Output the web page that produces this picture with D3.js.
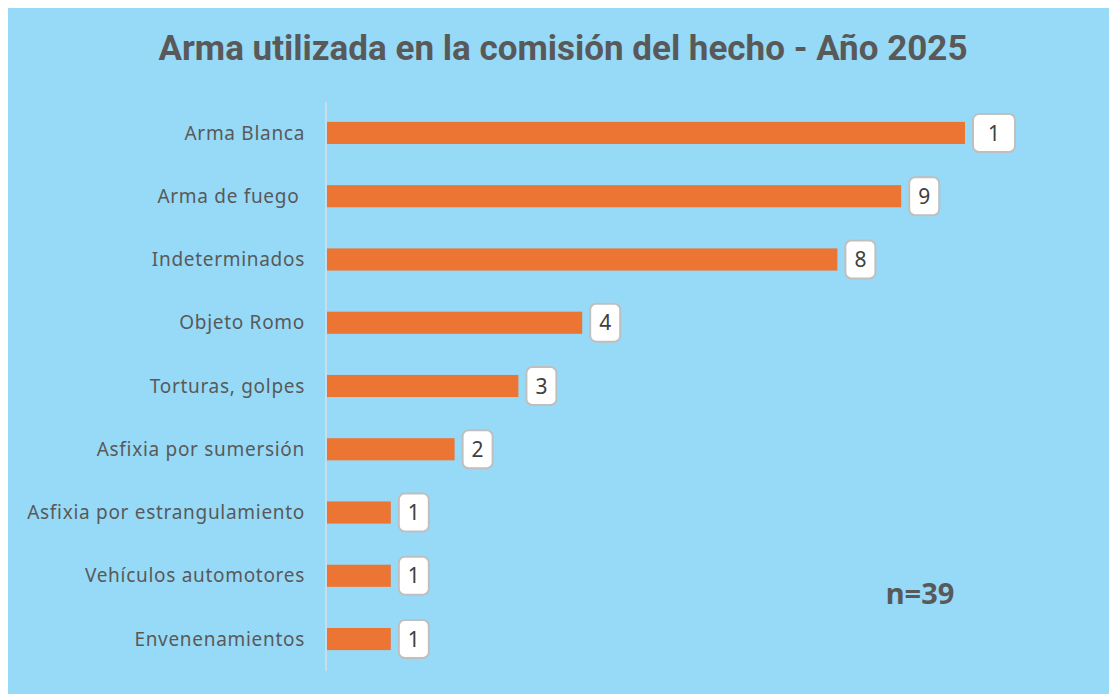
<!DOCTYPE html>
<html><head><meta charset="utf-8">
<script src="https://cdn.jsdelivr.net/npm/d3@7/dist/d3.min.js"></script>
<style>body{margin:0;background:#fff}svg{display:block}text{white-space:pre}</style>
</head><body>
<svg id="c" width="1109" height="694"></svg>
<script>
const categories = ["Arma Blanca","Arma de fuego ","Indeterminados","Objeto Romo","Torturas, golpes","Asfixia por sumersión","Asfixia por estrangulamiento","Vehículos automotores","Envenenamientos"];
const values = [10,9,8,4,3,2,1,1,1];
const valueLabels = ["1","9","8","4","3","2","1","1","1"];
const title = "Arma utilizada en la comisión del hecho - Año 2025";
const note = "n=39";

const svg = d3.select("#c");
svg.append("rect").attr("x",8).attr("y",8).attr("width",1101).attr("height",686).attr("fill","#97DAF7");

svg.append("text").attr("x",563).attr("y",60).attr("text-anchor","middle")
  .attr("font-family","Roboto, sans-serif").attr("font-weight",700).attr("font-size",35)
  .attr("fill","#595959").text(title);

const x = d3.scaleLinear().domain([0,10]).range([327,965]);
const y = d3.scaleBand().domain(categories).range([101,671]).paddingInner(0.65).paddingOuter(0.33);

svg.append("line").attr("x1",326).attr("x2",326).attr("y1",102).attr("y2",671)
  .attr("stroke","#C9DDE6").attr("stroke-width",2);

const g = svg.append("g");
g.selectAll("rect.bar").data(categories).join("rect").attr("class","bar")
  .attr("x",x(0)).attr("y",d=>y(d)).attr("height",y.bandwidth())
  .attr("width",(d,i)=>x(values[i])-x(0)).attr("fill","#ED7533");

g.selectAll("text.cat").data(categories).join("text").attr("class","cat")
  .attr("x",305).attr("y",d=>y(d)+y.bandwidth()/2).attr("dy","0.35em")
  .attr("text-anchor","end").attr("font-family","'Noto Sans', sans-serif").attr("font-size",19)
  .attr("letter-spacing",0.7).attr("fill","#595959").text(d=>d);

const lb = g.selectAll("g.lbl").data(categories).join("g").attr("class","lbl")
  .attr("transform",(d,i)=>`translate(${x(values[i])+8},${y(d)+y.bandwidth()/2})`);
const bw = (d,i)=> values[i]>=10 ? 42 : 30;
lb.append("rect").attr("x",0).attr("y",-19).attr("width",bw).attr("height",38)
  .attr("rx",6).attr("fill","#fff").attr("stroke","#BFBFBF").attr("stroke-width",2);
lb.append("text").attr("x",(d,i)=>bw(d,i)/2).attr("y",0).attr("dy","0.36em")
  .attr("text-anchor","middle").attr("font-family","'Noto Sans', sans-serif").attr("font-size",21)
  .attr("fill","#404040").text((d,i)=>valueLabels[i]);

svg.append("text").attr("x",920).attr("y",604).attr("text-anchor","middle")
  .attr("font-family","'Noto Sans', sans-serif").attr("font-weight",700).attr("font-size",29)
  .attr("fill","#595959").text(note);
</script>
</body></html>
